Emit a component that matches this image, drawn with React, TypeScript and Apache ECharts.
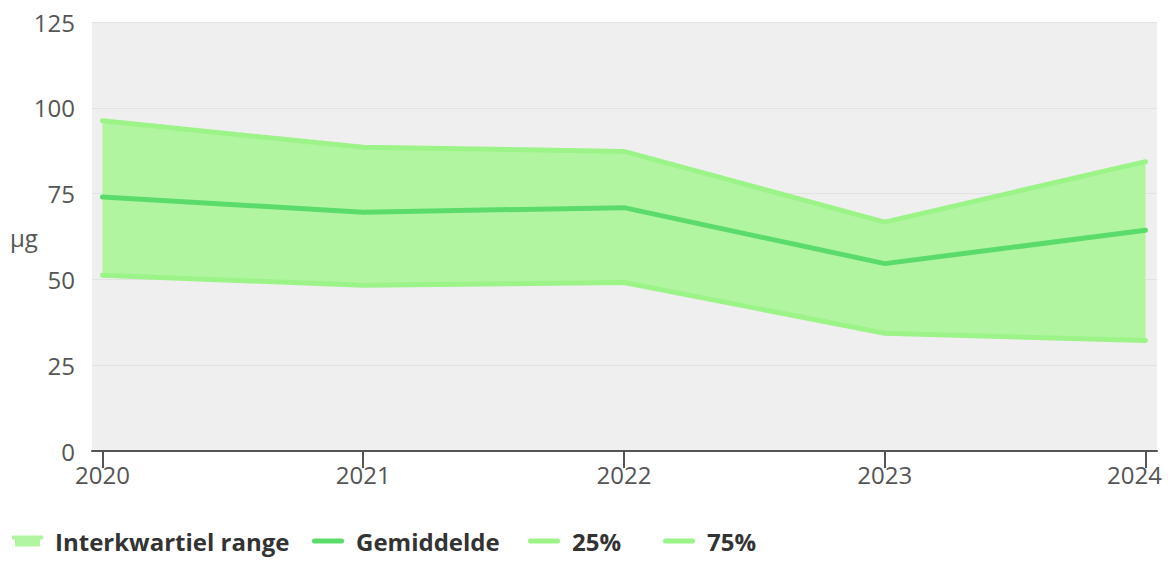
import React, { useEffect, useRef } from "react";
import * as echarts from "echarts";

const years = [2020, 2021, 2022, 2023, 2024];
const p25 = [51.2, 48.3, 49.1, 34.3, 32.2];
const mean = [74.0, 69.6, 70.9, 54.6, 64.3];
const p75 = [96.2, 88.5, 87.3, 66.7, 84.3];
const yTicks = [0, 25, 50, 75, 100, 125];

const FONT = "'Open Sans', 'DejaVu Sans', sans-serif";
const BAND = "#b2f5a1";
const LIGHT = "#9cf488";
const MEAN = "#5bdc6a";
const LINE_ICON = "path://M2.5,0H29.5A2.5,2.5 0 0 1 29.5,5H2.5A2.5,2.5 0 0 1 2.5,0Z";

export default function App() {
  const ref = useRef<HTMLDivElement>(null);
  useEffect(() => {
    if (!ref.current) return;
    const chart = echarts.init(ref.current, null, { renderer: "svg" });
    const legendText = { fontFamily: FONT, fontSize: 24, fontWeight: "bold", color: "#333", padding: [0, 0, 0, 7] };
    const mkLegend = (name: string, left: number) => ({
      data: [name],
      left,
      top: 529,
      padding: 0,
      itemWidth: 32,
      itemHeight: 5,
      itemGap: 0,
      icon: LINE_ICON,
      textStyle: legendText,
      selectedMode: false,
    });
    chart.setOption({
      animation: false,
      grid: {
        left: 92,
        right: 11,
        top: 22,
        bottom: 110,
        show: true,
        backgroundColor: "#efefef",
        borderWidth: 0,
      },
      legend: [
        { ...mkLegend("Interkwartiel range", 12), icon: "path://M0,0H31V4H28V11H3V4H0Z", itemWidth: 31, itemHeight: 11 },
        mkLegend("Gemiddelde", 312),
        mkLegend("25%", 528),
        mkLegend("75%", 663),
      ],
      graphic: [
        {
          type: "text",
          left: 10,
          top: 225,
          style: { text: "µg", fontFamily: FONT, fontSize: 24, fill: "#555" },
        },
      ],
      xAxis: {
        type: "value",
        min: 2019.96,
        max: 2024.044,
        axisLine: { show: true, lineStyle: { color: "#555", width: 2 } },
        axisTick: { show: true, customValues: years, length: 17, lineStyle: { color: "#555", width: 2 } },
        axisLabel: {
          customValues: years,
          fontFamily: FONT,
          fontSize: 24,
          color: "#555",
          margin: 11,
          formatter: (v: number) => (v === 2024 ? "{r|" + v + "}" : String(v)),
          rich: { r: { fontFamily: FONT, fontSize: 24, color: "#555", padding: [0, 22, 0, 0] } },
        },
        splitLine: { show: false },
      },
      yAxis: {
        type: "value",
        min: yTicks[0],
        max: yTicks[yTicks.length - 1],
        interval: 25,
        axisLine: { show: false },
        axisTick: { show: false },
        axisLabel: { fontFamily: FONT, fontSize: 24, color: "#555", margin: 17 },
        splitLine: { lineStyle: { color: "#e2e2e2", width: 1 } },
      },
      series: [
        {
          name: "Interkwartiel range",
          type: "custom",
          data: years.map((y, i) => [y, p25[i], p75[i]]),
          encode: { x: 0, y: [1, 2] },
          itemStyle: { color: BAND },
          renderItem: (params: any, api: any) => {
            if (params.dataIndex !== 0) return null;
            const top = years.map((y, i) => api.coord([y, p75[i]]));
            const bot = years.map((y, i) => api.coord([y, p25[i]])).reverse();
            return {
              type: "polygon",
              shape: { points: top.concat(bot) },
              style: { fill: BAND },
            };
          },
        },
        {
          name: "25%",
          type: "line",
          data: years.map((y, i) => [y, p25[i]]),
          lineStyle: { color: LIGHT, width: 5, cap: "round", join: "round" },
          itemStyle: { color: LIGHT },
          symbol: "none",
        },
        {
          name: "75%",
          type: "line",
          data: years.map((y, i) => [y, p75[i]]),
          lineStyle: { color: LIGHT, width: 5, cap: "round", join: "round" },
          itemStyle: { color: LIGHT },
          symbol: "none",
        },
        {
          name: "Gemiddelde",
          type: "line",
          data: years.map((y, i) => [y, mean[i]]),
          lineStyle: { color: MEAN, width: 5, cap: "round", join: "round" },
          itemStyle: { color: MEAN },
          symbol: "none",
        },
      ],
    });
    return () => chart.dispose();
  }, []);
  return <div ref={ref} style={{ width: 1168, height: 561, position: "absolute", left: 0, top: 0 }} />;
}
